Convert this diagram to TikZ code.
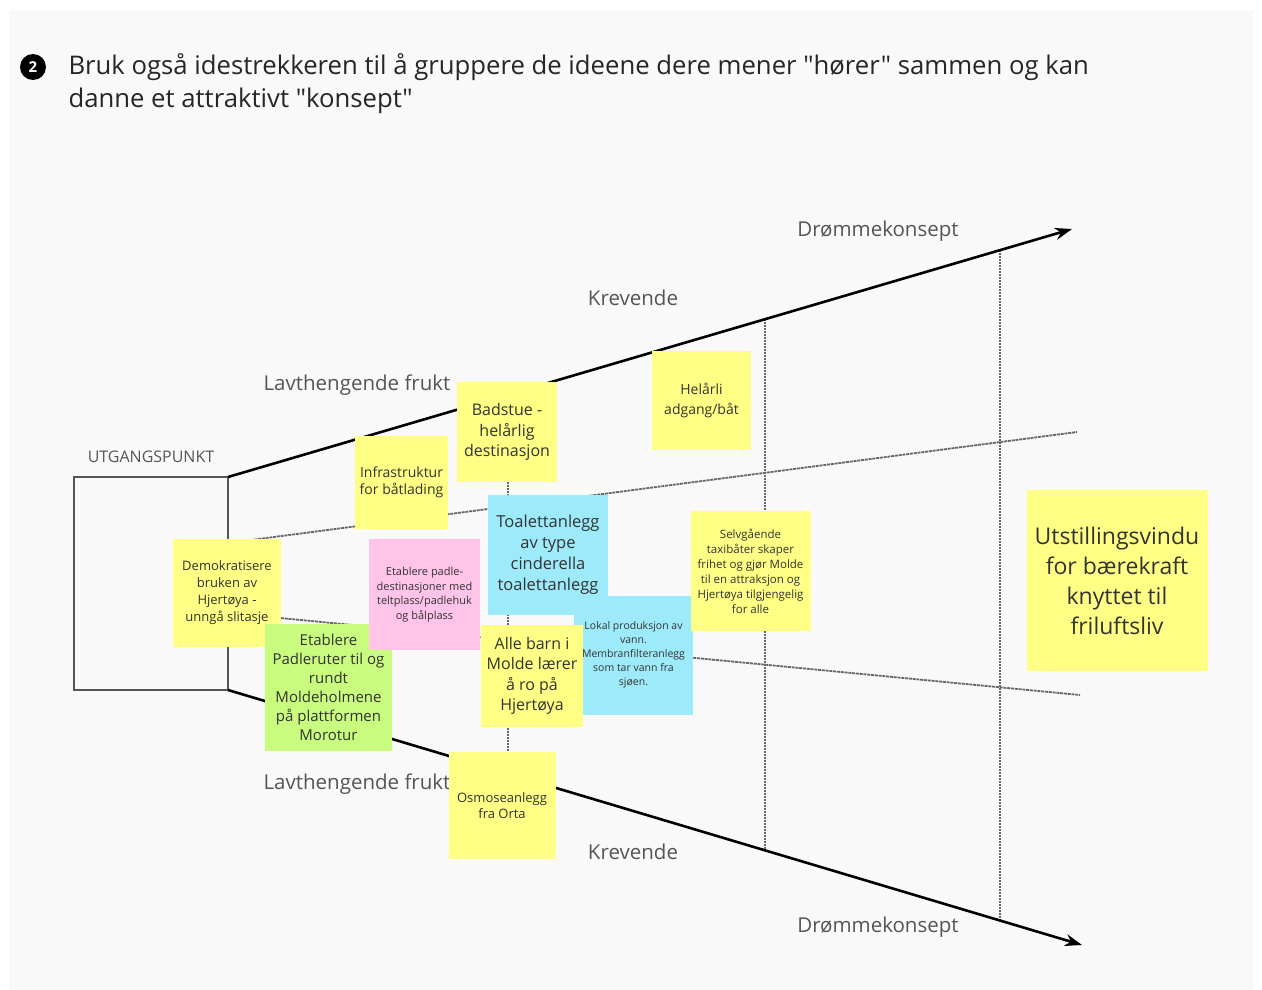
\documentclass[tikz,border=0pt]{standalone}
\usepackage{fontspec}
\setmainfont{Open Sans}[Ligatures=TeXOff]
\usetikzlibrary{arrows.meta}

\definecolor{panel}{HTML}{F9F9F9}
\definecolor{notey}{HTML}{FFFF85}
\definecolor{noteg}{HTML}{C9FB7F}
\definecolor{notep}{HTML}{FFC4E8}
\definecolor{noteb}{HTML}{9DEBFA}
\definecolor{notetxt}{HTML}{333333}
\definecolor{labelgray}{HTML}{555555}
\definecolor{linegray}{HTML}{666666}

\newcommand{\fsz}[2]{\fontsize{#1}{#2}\selectfont}

\tikzset{
  note/.style={rectangle, inner sep=0pt, align=center, text=notetxt, minimum size=#1},
  fuzzline/.style={draw=linegray, line width=1.8pt, dash pattern=on 3pt off 0.8pt},
  gridline/.style={draw=linegray, line width=1.1pt, dash pattern=on 2pt off 1pt},
  axis/.style={line width=2.6pt, -{Stealth[length=17pt,width=12pt]}},
  lbl/.style={text=labelgray, font=\fsz{20.5}{24}},
}

\begin{document}
\begin{tikzpicture}[x=1pt,y=-1pt]
\useasboundingbox (0,0) rectangle (1262,990);
\fill[panel] (9,10) rectangle (1254,990);

% heading
\node[circle, fill=black, text=white, minimum size=26pt, inner sep=0pt, font=\fsz{15}{15}\bfseries] (step2) at (33,67) {2};
\node[anchor=west, align=left, text=black!85, font=\fsz{25.7}{33}] (title) at (65,84) {Bruk også idestrekkeren til å gruppere de ideene dere mener "hører" sammen og kan\\danne et attraktivt "konsept"};

% start box and the two axes
\coordinate (bx-tl) at (74,477);
\coordinate (bx-tr) at (228,477);
\coordinate (bx-br) at (228,690);
\coordinate (top-end) at (1072,229);
\coordinate (bot-end) at (1082,945);
\draw[draw=labelgray, line width=2.4pt] (bx-tl) rectangle (bx-br);

\coordinate (mid-a) at (228,543);
\coordinate (mid-b) at (1077,432);
\coordinate (low-a) at (228,613);
\coordinate (low-b) at (1080,695);
\draw[fuzzline] (mid-a) -- (mid-b);
\draw[fuzzline] (low-a) -- (low-b);

\foreach \x/\ty/\by in {508/395/774, 765/319/850, 1000/250/920}
  \draw[gridline] (\x,\ty) -- (\x,\by);

\draw[axis] (bx-tr) -- (top-end);
\draw[axis] (bx-br) -- (bot-end);

% labels
\node[text=labelgray, font=\fsz{16}{18}] (start) at (151,457) {UTGANGSPUNKT};
\node[lbl] (drom-top) at (878,231) {Drømmekonsept};
\node[lbl] (krev-top) at (633,298) {Krevende};
\node[lbl] (lavt-top) at (357,385) {Lavthengende frukt};
\node[lbl] (lavt-bot) at (357,784) {Lavthengende frukt};
\node[lbl] (krev-bot) at (633,852) {Krevende};
\node[lbl] (drom-bot) at (878,927) {Drømmekonsept};

% sticky notes
\node[note=108pt, fill=notey, font=\fsz{13}{17}] (demo) at (227,593) {Demokratisere\\bruken av\\Hjertøya -\\unngå slitasje};
\node[note=127pt, fill=noteg, font=\fsz{15}{19}] (padle) at (328.5,687.5) {Etablere\\Padleruter til og\\rundt\\Moldeholmene\\på plattformen\\Morotur};
\node[note=93pt, fill=notey, font=\fsz{14}{17}] (infra) at (401.5,482.5) {Infrastruktur\\for båtlading};
\node[note=100pt, fill=notey, font=\fsz{16}{20.5}] (badstue) at (507,432) {Badstue -\\helårlig\\destinasjon};
\node[note=111pt, fill=notep, font=\fsz{11}{14.5}] (telt) at (424.5,594.5) {Etablere padle-\\destinasjoner med\\teltplass/padlehuk\\og bålplass};
\node[note=120pt, fill=noteb, font=\fsz{16.5}{21}] (toalett) at (548,555) {Toalettanlegg\\av type\\cinderella\\toalettanlegg};
\node[note=119pt, fill=noteb, font=\fsz{10.5}{14}] (vann) at (633.5,655) {Lokal produksjon av\\vann.\\Membranfilteranlegg\\som tar vann fra\\sjøen.};
\node[note=102pt, fill=notey, font=\fsz{16}{20.5}] (barn) at (532,676) {Alle barn i\\Molde lærer\\å ro på\\Hjertøya};
\node[note=120pt, fill=notey, font=\fsz{11.5}{15}] (taxi) at (750.5,571) {Selvgående\\taxibåter skaper\\frihet og gjør Molde\\til en attraksjon og\\Hjertøya tilgjengelig\\for alle};
\node[note=99pt, fill=notey, font=\fsz{14}{20}] (adgang) at (701.5,400.5) {Helårli\\adgang/båt};
\node[note=107pt, fill=notey, font=\fsz{13}{16}] (osmo) at (502,805.5) {Osmoseanlegg\\fra Orta};
\node[note=181pt, fill=notey, font=\fsz{23}{30}] (vindu) at (1117,580.5) {Utstillingsvindu\\for bærekraft\\knyttet til\\friluftsliv};

\end{tikzpicture}
\end{document}
